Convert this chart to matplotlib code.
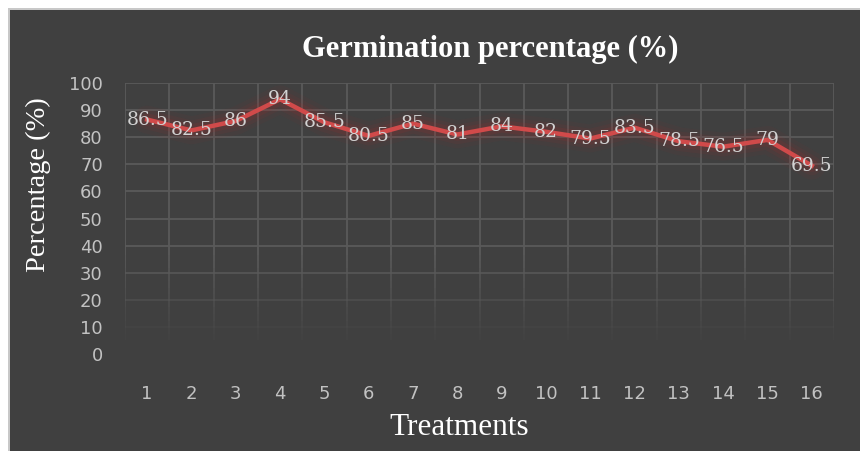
import matplotlib
matplotlib.use("Agg")
import matplotlib.pyplot as plt
import numpy as np
from matplotlib.patches import Rectangle

treatments = [str(i) for i in range(1, 17)]
germination = [86.5, 82.5, 86, 94, 85.5, 80.5, 85, 81, 84, 82, 79.5, 83.5, 78.5, 76.5, 79, 69.5]
labels = ["86.5", "82.5", "86", "94", "85.5", "80.5", "85", "81", "84", "82", "79.5", "83.5", "78.5", "76.5", "79", "69.5"]
yticks = [0, 10, 20, 30, 40, 50, 60, 70, 80, 90, 100]

W, H = 860, 451
fig = plt.figure(figsize=(W / 100, H / 100), dpi=100)
fig.patch.set_facecolor("white")

# dark panel with light border
fig.patches.append(Rectangle((8 / W, 0), 1, 1 - 8 / H, transform=fig.transFigure,
                             facecolor="#c8c8c8", edgecolor="none", zorder=-20))
fig.patches.append(Rectangle((10 / W, 0), 1, 1 - 10 / H, transform=fig.transFigure,
                             facecolor="#404040", edgecolor="none", zorder=-19))

ax = fig.add_axes([125 / W, 1 - 354 / H, (834 - 125) / W, (354 - 83) / H])
ax.set_facecolor("none")
x = np.arange(1, len(germination) + 1)
ax.set_xlim(0.5, len(germination) + 0.5)
ax.set_ylim(0, 100)

# fading gridlines
grid_col = "#5a5a5a"
for yv in yticks[1:]:
    a = min(1.0, max(0.0, (yv - 5) / 30))
    ax.axhline(yv, color=grid_col, lw=1.3, alpha=a, zorder=1)
xb = np.arange(0.5, len(germination) + 1.0, 1.0)
segs = np.linspace(5, 100, 40)
for xv in xb:
    for i in range(len(segs) - 1):
        mid = (segs[i] + segs[i + 1]) / 2
        a = min(1.0, max(0.0, (mid - 3) / 35))
        ax.plot([xv, xv], [segs[i], segs[i + 1]], color=grid_col, lw=1.3, alpha=a,
                solid_capstyle="butt", zorder=1)

# glow + line
for lw, al in [(20, 0.05), (14, 0.08), (9, 0.12)]:
    ax.plot(x, germination, color="#b02828", lw=lw, alpha=al, solid_joinstyle="round",
            solid_capstyle="round", zorder=2)
ax.plot(x, germination, color="#d04a4a", lw=3.2, solid_joinstyle="round", zorder=3)

for xi, yi, lab in zip(x, germination, labels):
    ax.text(xi, yi, lab, ha="center", va="center", family="DejaVu Serif",
            fontsize=13.5, color="#d2d2d2", zorder=4)

for s in ax.spines.values():
    s.set_visible(False)
ax.set_yticks(yticks)
ax.set_yticklabels([str(v) for v in yticks])
ax.set_xticks(x)
ax.set_xticklabels(treatments)
ax.tick_params(axis="y", length=0, pad=16, labelsize=13, labelcolor="#c2c2c2")
ax.tick_params(axis="x", length=0, pad=22, labelsize=13, labelcolor="#c2c2c2")
for t in ax.get_xticklabels() + ax.get_yticklabels():
    t.set_family("DejaVu Sans")

fig.text(490 / W, 1 - 57 / H, "Germination percentage (%)", ha="center", va="baseline",
         family="Liberation Serif", fontweight="bold", fontsize=22, color="white")
fig.text(459 / W, 1 - 435 / H, "Treatments", ha="center", va="baseline",
         family="Liberation Serif", fontsize=22.5, color="white")
fig.text(38 / W, 1 - 185 / H, "Percentage (%)", ha="center", va="center", rotation=90,
         family="Liberation Serif", fontsize=20.5, color="white")

fig.savefig("out.png", dpi=100, facecolor=fig.get_facecolor())
